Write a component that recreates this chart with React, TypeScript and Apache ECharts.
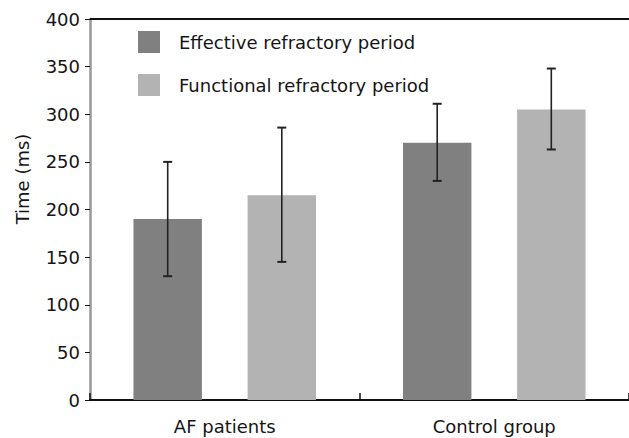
import React, { useEffect, useRef } from "react";
import * as echarts from "echarts";

const categories = ["AF patients", "Control group"];
const seriesNames = ["Effective refractory period", "Functional refractory period"];
const effectiveMean = [190, 270];
const effectiveLow = [130, 230];
const effectiveHigh = [250, 311];
const functionalMean = [215, 305];
const functionalLow = [145, 263];
const functionalHigh = [286, 348];
const yTicks = { min: 0, max: 400, interval: 50 };
const yAxisTitle = "Time (ms)";

const FONT = "DejaVu Sans";
const TEXT = "#151515";
const BAR_W = 0.254;
const BAR_GAP = 0.667;

export default function App() {
  const ref = useRef<HTMLDivElement>(null);
  useEffect(() => {
    if (!ref.current) return;
    const chart = echarts.init(ref.current, undefined, { renderer: "svg" });

    const makeErr = (low: number[], high: number[], sign: number) => ({
      type: "custom",
      name: "err" + sign,
      silent: true,
      z: 10,
      data: categories.map((_, i) => [i, low[i], high[i]]),
      encode: { x: 0, y: [1, 2] },
      renderItem: (params: any, api: any) => {
        const i = api.value(0);
        const lo = api.coord([i, api.value(1)]);
        const hi = api.coord([i, api.value(2)]);
        const band = api.size([1, 0])[0];
        const off = (band * BAR_W * (1 + BAR_GAP)) / 2;
        const x = lo[0] + sign * off;
        const cap = 4.5;
        const style = { stroke: "#222", lineWidth: 1.6 };
        return {
          type: "group",
          children: [
            { type: "line", shape: { x1: x, y1: lo[1], x2: x, y2: hi[1] }, style },
            { type: "line", shape: { x1: x - cap, y1: hi[1], x2: x + cap, y2: hi[1] }, style: { stroke: "#222", lineWidth: 2 } },
            { type: "line", shape: { x1: x - cap, y1: lo[1], x2: x + cap, y2: lo[1] }, style: { stroke: "#222", lineWidth: 2 } },
          ],
        };
      },
    });

    chart.setOption({
      animation: false,
      backgroundColor: "#ffffff",
      textStyle: { fontFamily: FONT },
      grid: { left: 90, right: 0, top: 19, bottom: 38, outerBoundsMode: "none", containLabel: false },
      legend: {
        data: seriesNames,
        orient: "vertical",
        left: 133,
        top: 26,
        itemWidth: 22,
        itemHeight: 22,
        itemGap: 21,
        icon: "rect",
        selectedMode: false,
        textStyle: { fontFamily: FONT, fontSize: 18, color: TEXT, padding: [0, 0, 0, 14] },
      },
      xAxis: {
        type: "category",
        data: categories,
        axisLine: { lineStyle: { color: "#111", width: 2 } },
        axisTick: { show: true, inside: true, length: 7, lineStyle: { color: "#111", width: 1.5 } },
        axisLabel: { fontFamily: FONT, fontSize: 18, color: TEXT, margin: 17 },
      },
      yAxis: {
        type: "value",
        min: yTicks.min,
        max: yTicks.max,
        interval: yTicks.interval,
        axisLine: { show: true, lineStyle: { color: "#999", width: 2.5 } },
        axisTick: { show: true, length: 5, lineStyle: { color: "#111", width: 1 } },
        axisLabel: { fontFamily: FONT, fontSize: 18, color: TEXT, margin: 10 },
        splitLine: { show: false },
      },
      graphic: [
        { type: "line", shape: { x1: 90, y1: 19, x2: 629, y2: 19 }, style: { stroke: "#111", lineWidth: 2 }, z: 5 },
        {
          type: "text",
          x: 22,
          y: 179,
          rotation: Math.PI / 2,
          style: { text: yAxisTitle, fontFamily: FONT, fontSize: 18, fill: TEXT, textAlign: "center", textVerticalAlign: "middle" },
        },
      ],
      series: [
        {
          type: "bar",
          name: seriesNames[0],
          data: effectiveMean,
          barWidth: "25.4%",
          barGap: "66.7%",
          itemStyle: { color: "#808080" },
        },
        {
          type: "bar",
          name: seriesNames[1],
          data: functionalMean,
          barWidth: "25.4%",
          barGap: "66.7%",
          itemStyle: { color: "#b3b3b3" },
        },
        makeErr(effectiveLow, effectiveHigh, -1),
        makeErr(functionalLow, functionalHigh, 1),
      ],
    });
    return () => chart.dispose();
  }, []);
  return <div ref={ref} style={{ width: 629, height: 438, position: "absolute", left: 0, top: 0 }} />;
}
